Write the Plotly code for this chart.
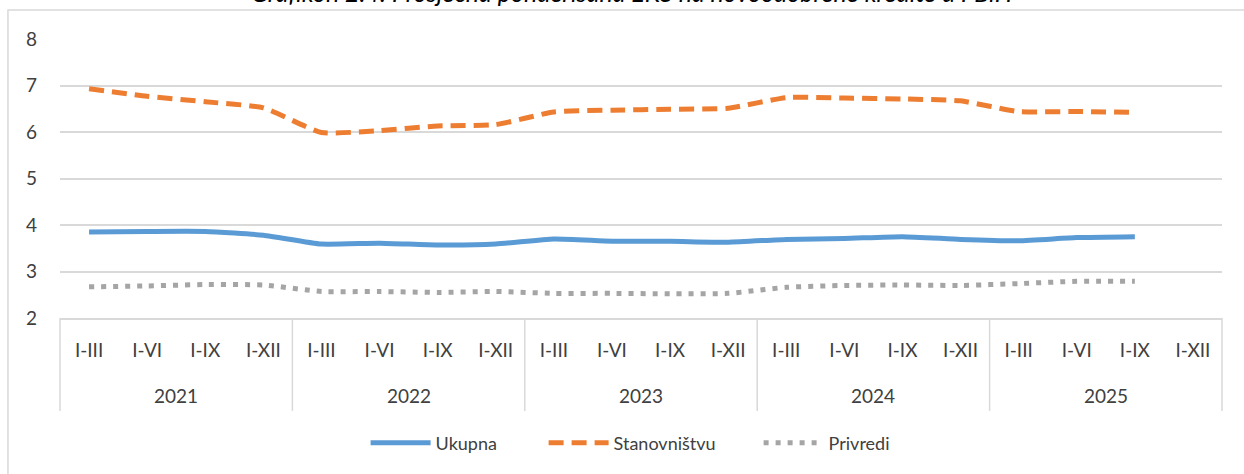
import plotly.graph_objects as go

years = ["2021", "2022", "2023", "2024", "2025"]
quarters = ["I-III", "I-VI", "I-IX", "I-XII"]
x_labels = [q for y in years for q in quarters]

ukupna = [3.85, 3.86, 3.86, 3.78,
          3.59, 3.61, 3.57, 3.59,
          3.70, 3.65, 3.65, 3.63,
          3.69, 3.71, 3.75, 3.69,
          3.66, 3.73, 3.75]
stanovnistvu = [6.93, 6.77, 6.65, 6.52,
                5.99, 6.03, 6.13, 6.16,
                6.43, 6.47, 6.49, 6.51,
                6.74, 6.73, 6.71, 6.67,
                6.44, 6.44, 6.42]
privredi = [2.67, 2.69, 2.72, 2.71,
            2.57, 2.57, 2.55, 2.57,
            2.53, 2.53, 2.52, 2.53,
            2.66, 2.70, 2.71, 2.70,
            2.74, 2.79, 2.79]

title_text = "Grafikon 2.4: Prosječna ponderisana EKS na novoodobrene kredite u FBiH"

FONT = "Lato"
TXT = "#404040"
GRID = "#d9d9d9"

idx = list(range(len(x_labels)))

fig = go.Figure()
fig.add_trace(go.Scatter(x=idx[:len(ukupna)], y=ukupna, name="Ukupna", mode="lines", legendwidth=103,
                         line=dict(color="#5b9bd5", width=5, shape="spline", smoothing=0.5)))
fig.add_trace(go.Scatter(x=idx[:len(stanovnistvu)], y=stanovnistvu, name="Stanovništvu", mode="lines",
                         legendwidth=140,
                         line=dict(color="#ed7d31", width=5, dash="15px,8px", shape="spline", smoothing=0.5)))
fig.add_trace(go.Scatter(x=idx[:len(privredi)], y=privredi, name="Privredi", mode="lines", legendwidth=60,
                         line=dict(color="#a5a5a5", width=5, dash="5px,7px", shape="spline", smoothing=0.5)))

shapes = []
# outer chart frame
shapes.append(dict(type="rect", xref="paper", yref="paper", x0=-0.0448, x1=1.2, y0=-0.7, y1=1.104,
                   line=dict(color=GRID, width=1.5), layer="below"))
# category dividers
n = len(x_labels)
for k in range(len(years) + 1):
    xp = k * len(quarters) / n
    shapes.append(dict(type="line", xref="paper", yref="paper", x0=xp, x1=xp, y0=0, y1=-0.333,
                       line=dict(color=GRID, width=1.5)))

annotations = []
for k, yr in enumerate(years):
    annotations.append(dict(x=k * len(quarters) + 1.5, xref="x", y=-0.276, yref="paper",
                            text=yr, showarrow=False, yanchor="middle",
                            font=dict(family=FONT, size=19, color=TXT)))
annotations.append(dict(x=0.492, xref="paper", y=1, yref="paper", yshift=47, yanchor="middle",
                        text="<i>" + title_text + "</i>", showarrow=False,
                        font=dict(family=FONT, size=25, color="#000000")))

fig.update_layout(
    width=1244, height=474,
    margin=dict(l=60, r=22, t=39, b=156),
    paper_bgcolor="white", plot_bgcolor="white",
    font=dict(family=FONT, size=19, color=TXT),
    showlegend=True,
    legend=dict(orientation="h", x=0.263, xanchor="left", y=-0.448, yanchor="middle",
                itemwidth=60, font=dict(family=FONT, size=18, color=TXT)),
    shapes=shapes,
    annotations=annotations,
)
fig.update_xaxes(range=[-0.5, n - 0.5], tickvals=idx, ticktext=x_labels, showgrid=False,
                 showline=True, linecolor=GRID, linewidth=1.5, ticks="", zeroline=False,
                 ticklabelstandoff=14, fixedrange=True)
fig.update_yaxes(range=[2, 8], dtick=1, showgrid=True, gridcolor=GRID, gridwidth=1.5,
                 zeroline=False, showline=False, ticks="", ticklabelstandoff=22, fixedrange=True,
                 tickfont=dict(family=FONT, size=19, color=TXT))

fig.write_html("out.html", config={"displayModeBar": False},
               post_script="document.body.style.margin='0px';")
